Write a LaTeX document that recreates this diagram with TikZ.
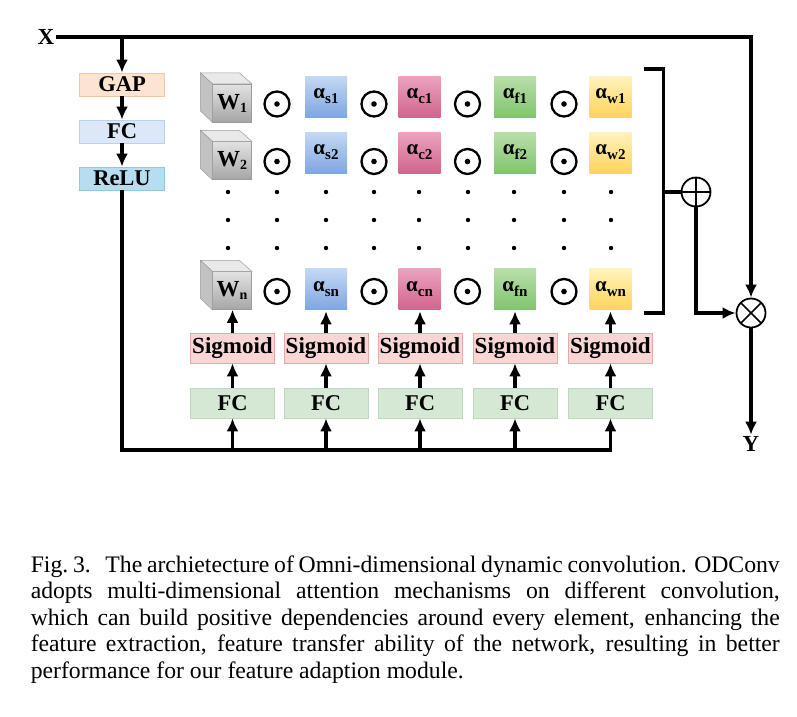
\documentclass[tikz,border=0pt]{standalone}
\usepackage{fontspec}
\setmainfont{Liberation Serif}
\usetikzlibrary{arrows.meta}
\definecolor{gapfill}{HTML}{FCE4D0}
\definecolor{gapline}{HTML}{F2C9A5}
\definecolor{fcfill}{HTML}{DCE8F7}
\definecolor{fcline}{HTML}{BDD0EC}
\definecolor{relufill}{HTML}{B7DEF0}
\definecolor{reluline}{HTML}{92C8E2}
\definecolor{sigfill}{HTML}{F8D6D4}
\definecolor{sigline}{HTML}{E5A9A6}
\definecolor{fcgfill}{HTML}{D5E8D4}
\definecolor{fcgline}{HTML}{BFD9BE}
\definecolor{sTop}{HTML}{C4D8F3}
\definecolor{sBot}{HTML}{7FA7E0}
\definecolor{cTop}{HTML}{EBA3C0}
\definecolor{cBot}{HTML}{D2648D}
\definecolor{fTop}{HTML}{B9DFA9}
\definecolor{fBot}{HTML}{80C56D}
\definecolor{wTop}{HTML}{FFF3BE}
\definecolor{wBot}{HTML}{FFD458}
\definecolor{gTop}{HTML}{E2E2E2}
\definecolor{gBot}{HTML}{A6A6A6}
\definecolor{gSide}{HTML}{C2C2C2}
\definecolor{gTopFace}{HTML}{E9E9E9}
\definecolor{gEdge}{HTML}{9C9C9C}
\newcommand\alab[1]{{\fontsize{21}{21}\selectfont α}\raisebox{-5pt}{\fontsize{15}{15}\selectfont #1}}
\newcommand\wlab[1]{{\fontsize{23}{23}\selectfont W}\raisebox{-3pt}{\fontsize{14}{14}\selectfont #1}}
\begin{document}
\begin{tikzpicture}[x=1pt,y=-1pt,line width=3.5pt,>={Latex[length=13pt,width=12pt]},
 lab/.style={inner sep=0pt, font=\fontsize{23}{23}\selectfont\bfseries},
 box/.style={draw, line width=0.7pt, inner sep=0pt, minimum width=85pt, minimum height=23pt, font=\fontsize{22.5}{22.5}\selectfont\bfseries},
 gapbox/.style={box, fill=gapfill, draw=gapline},
 fcbox/.style={box, fill=fcfill, draw=fcline},
 relubox/.style={box, fill=relufill, draw=reluline},
 sigbox/.style={box, minimum width=84pt, minimum height=30pt, fill=sigfill, draw=sigline, font=\fontsize{23}{23}\selectfont\bfseries},
 fcgbox/.style={box, minimum width=84pt, minimum height=30pt, fill=fcgfill, draw=fcgline},
 att/.style={inner sep=0pt, minimum width=42pt, minimum height=41pt, font=\bfseries},
 atts/.style={att, top color=sTop, bottom color=sBot},
 attc/.style={att, top color=cTop, bottom color=cBot},
 attf/.style={att, top color=fTop, bottom color=fBot},
 attw/.style={att, top color=wTop, bottom color=wBot},
 wface/.style={inner sep=0pt, minimum width=39pt, minimum height=38pt, top color=gTop, bottom color=gBot, draw=gEdge, line width=0.5pt, font=\bfseries},
 sideface/.style={fill=gSide, draw=gEdge, line width=0.5pt},
 topface/.style={fill=gTopFace, draw=gEdge, line width=0.5pt},
 odot/.style={circle, draw, line width=2.3pt, minimum size=25pt, inner sep=0pt,
   path picture={\fill (path picture bounding box.center) circle (2.8pt);}},
 opsym/.style={circle, draw, line width=1.8pt, minimum size=29pt, inner sep=0pt},
 capline/.style={anchor=base west, inner sep=0pt, font=\fontsize{23.7}{26}\selectfont},
]
\useasboundingbox (0,0) rectangle (797,716);

% input / output labels
\node[lab] (X) at (46,37) {X};
\node[lab] (Y) at (751,444) {Y};

% left branch
\node[gapbox] (gap) at (122,84.5) {GAP};
\node[fcbox] (fc0) at (122,131.5) {FC};
\node[relubox] (relu) at (122,178.5) {ReLU};

% operators
\node[opsym, path picture={\draw[line width=1.5pt] (path picture bounding box.north) -- (path picture bounding box.south) (path picture bounding box.west) -- (path picture bounding box.east);}] (plus) at (696,192) {};
\node[opsym, path picture={\draw[line width=1.5pt] (path picture bounding box.north east) -- (path picture bounding box.south west) (path picture bounding box.north west) -- (path picture bounding box.south east);}] (mul) at (751,313) {};

% rows of kernels and attentions
\foreach \r/\fy/\ay/\sub in {1/103/96.5/1, 2/160.5/152.5/2, n/290.5/289/n}{
  \node[wface] (W\r) at (232,\fy) {\wlab{\sub}};
  \draw[topface] (W\r.north west) -- ++(-12,-11) -- ++(39,0) -- (W\r.north east) -- cycle;
  \draw[sideface] (W\r.north west) -- ++(-12,-11) -- ++(0,38) -- (W\r.south west) -- cycle;
  \node[atts] (as\r) at (326,\ay) {\alab{s\sub}};
  \node[attc] (ac\r) at (419.5,\ay) {\alab{c\sub}};
  \node[attf] (af\r) at (515,\ay) {\alab{f\sub}};
  \node[attw] (aw\r) at (610.5,\ay) {\alab{w\sub}};
  \node[odot] (o\r a) at (277,\fy+1) {};
  \node[odot] (o\r b) at (374,\fy+1) {};
  \node[odot] (o\r c) at (467.5,\fy+1) {};
  \node[odot] (o\r d) at (564,\fy+1) {};
}

% vertical ellipsis dots
\foreach \dx in {228,277,326,374,419,468,514,564,611}
  \foreach \dy in {192,220,248}
    \fill (\dx,\dy) circle (2.2pt);

% sigmoid and FC columns
\foreach \i/\cx/\tg in {1/232.5/Wn, 2/326/asn, 3/420/acn, 4/515/afn, 5/610.5/awn}{
  \node[sigbox] (sig\i) at (\cx,348) {Sigmoid};
  \node[fcgbox] (fcg\i) at (\cx,403) {FC};
  \draw[->] (fcg\i.north) -- (sig\i.north |- fcg\i.north) -- (sig\i.south);
  \draw[->] (sig\i.north) -- (sig\i.north |- \tg.south);
}

% connectors of the left branch
\coordinate (bus) at (610.5,450);
\draw[->] (X.east) -| (mul.north);
\draw[->] (gap.north |- X.east) -- (gap.north);
\draw[->] (gap.south) -- (fc0.north);
\draw[->] (fc0.south) -- (relu.north);
\draw[->] (relu.south) |- (bus) -- (fcg5.south);
\foreach \i in {1,2,3,4}
  \draw[->] (fcg\i.south |- bus) -- (fcg\i.south);

% summation bracket
\coordinate (btop) at (644,69);
\coordinate (bbot) at (644,313);
\coordinate (bmid) at (663.5,192);
\draw[line join=miter] (btop) -- (btop -| bmid) -- (bbot -| bmid) -- (bbot);
\draw (bmid) -- (plus.west);
\draw[->] (plus.south) |- (mul.west);
\draw[->] (mul.south) -- (Y.north);

% caption
\node[capline] (cap1) at (29,572) {\makebox[749pt][s]{Fig.~3.\hspace{0.3em} The archietecture of Omni-dimensional dynamic convolution. ODConv}};
\node[capline] (cap2) at (29,598.5) {\makebox[749pt][s]{adopts multi-dimensional attention mechanisms on different convolution,}};
\node[capline] (cap3) at (29,625) {\makebox[749pt][s]{which can build positive dependencies around every element, enhancing the}};
\node[capline] (cap4) at (29,651.5) {\makebox[749pt][s]{feature extraction, feature transfer ability of the network, resulting in better}};
\node[capline] (cap5) at (29,678) {performance for our feature adaption module.};
\end{tikzpicture}
\end{document}
